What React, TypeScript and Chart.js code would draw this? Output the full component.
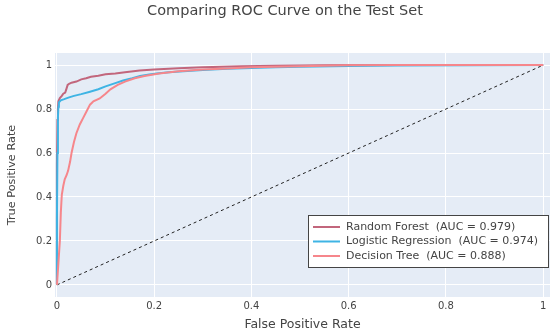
import React, { useEffect, useRef } from "react";
import { Chart, registerables } from "chart.js";

Chart.register(...registerables);

const TITLE = "Comparing ROC Curve on the Test Set";
const X_TITLE = "False Positive Rate";
const Y_TITLE = "True Positive Rate";
const TICKS = [0, 0.2, 0.4, 0.6, 0.8, 1];

const SERIES_NAMES = ["Random Forest", "Logistic Regression", "Decision Tree"];
const AUC_VALUES = ["0.979", "0.974", "0.888"];
const SERIES_COLORS = ["#c2667c", "#3fb4e4", "#f6868b"];

const RF_FPR = [0, 0, 0.001, 0.002, 0.003, 0.006, 0.01, 0.013, 0.017, 0.02, 0.022, 0.025, 0.03, 0.04, 0.05, 0.06, 0.07, 0.085, 0.1, 0.12, 0.14, 0.17, 0.2, 0.25, 0.3, 0.38, 0.45, 0.55, 0.65, 1];
const RF_TPR = [0, 0.55, 0.75, 0.8, 0.835, 0.85, 0.86, 0.87, 0.875, 0.895, 0.91, 0.915, 0.92, 0.925, 0.935, 0.94, 0.947, 0.952, 0.958, 0.962, 0.967, 0.975, 0.98, 0.986, 0.99, 0.995, 0.997, 0.999, 1, 1];

const LR_FPR = [0, 0, 0.001, 0.002, 0.003, 0.004, 0.008, 0.015, 0.025, 0.035, 0.05, 0.068, 0.085, 0.1, 0.12, 0.136, 0.155, 0.171, 0.19, 0.205, 0.23, 0.26, 0.3, 0.35, 0.4, 0.45, 0.5, 0.6, 0.7, 0.85, 1];
const LR_TPR = [0, 0.3, 0.6, 0.76, 0.81, 0.83, 0.84, 0.845, 0.853, 0.86, 0.868, 0.879, 0.89, 0.903, 0.918, 0.93, 0.94, 0.95, 0.957, 0.962, 0.967, 0.972, 0.978, 0.983, 0.987, 0.99, 0.993, 0.996, 0.998, 0.999, 1];

const DT_FPR = [0, 0.003, 0.006, 0.008, 0.01, 0.013, 0.016, 0.02, 0.023, 0.027, 0.03, 0.035, 0.04, 0.047, 0.054, 0.061, 0.068, 0.075, 0.088, 0.1, 0.11, 0.125, 0.14, 0.16, 0.18, 0.21, 0.25, 0.3, 0.35, 0.4, 0.5, 0.6, 0.7, 1];
const DT_TPR = [0, 0.1, 0.2, 0.33, 0.41, 0.45, 0.48, 0.5, 0.52, 0.56, 0.6, 0.65, 0.69, 0.73, 0.76, 0.79, 0.82, 0.835, 0.848, 0.87, 0.89, 0.91, 0.925, 0.94, 0.95, 0.962, 0.972, 0.98, 0.985, 0.99, 0.995, 0.999, 1, 1];

const DIAG_X = [0, 1];
const DIAG_Y = [0, 1];

const toPoints = (xs: number[], ys: number[]) => xs.map((x, i) => ({ x, y: ys[i] }));

const FONT = "'DejaVu Sans', Verdana, sans-serif";

const bgPlugin = {
  id: "bg",
  beforeDraw(chart: any) {
    const { ctx, chartArea } = chart;
    ctx.save();
    ctx.fillStyle = "#e5ecf6";
    ctx.fillRect(chartArea.left, chartArea.top, chartArea.right - chartArea.left, chartArea.bottom - chartArea.top);
    ctx.restore();
  },
};

const overlayPlugin = {
  id: "overlay",
  afterDraw(chart: any) {
    const { ctx } = chart;
    ctx.save();
    // title
    ctx.fillStyle = "#444";
    ctx.font = `14.5px ${FONT}`;
    ctx.textAlign = "center";
    ctx.textBaseline = "middle";
    ctx.fillText(TITLE, 285, 11);
    // legend
    const bx = 308.5, by = 215.5, bw = 240, bh = 52;
    ctx.fillStyle = "#ffffff";
    ctx.fillRect(bx, by, bw, bh);
    ctx.strokeStyle = "#444";
    ctx.lineWidth = 1;
    ctx.strokeRect(bx, by, bw, bh);
    const rows = [227, 241.5, 256];
    ctx.font = `11px ${FONT}`;
    ctx.textAlign = "left";
    SERIES_NAMES.forEach((name, i) => {
      ctx.strokeStyle = SERIES_COLORS[i];
      ctx.lineWidth = 2;
      ctx.beginPath();
      ctx.moveTo(313, rows[i]);
      ctx.lineTo(340, rows[i]);
      ctx.stroke();
      ctx.fillStyle = "#444";
      ctx.fillText(`${name}  (AUC = ${AUC_VALUES[i]})`, 346, rows[i]);
    });
    ctx.restore();
  },
};

export default function App() {
  const ref = useRef<HTMLCanvasElement>(null);
  useEffect(() => {
    if (!ref.current) return;
    const line = (data: any, color: string, order: number, extra: any = {}) => ({
      data,
      borderColor: color,
      backgroundColor: color,
      borderWidth: 2,
      showLine: true,
      pointRadius: 0,
      fill: false,
      tension: 0,
      order,
      ...extra,
    });
    const chart = new Chart(ref.current, {
      type: "scatter",
      data: {
        datasets: [
          line(toPoints(RF_FPR, RF_TPR), SERIES_COLORS[0], 3),
          line(toPoints(LR_FPR, LR_TPR), SERIES_COLORS[1], 2),
          line(toPoints(DT_FPR, DT_TPR), SERIES_COLORS[2], 1),
          line(toPoints(DIAG_X, DIAG_Y), "#222", 4, { borderWidth: 1, borderDash: [3, 3] }),
        ],
      },
      options: {
        responsive: false,
        animation: false,
        events: [],
        layout: { padding: { top: 53, left: 0, right: 0, bottom: 0 } },
        plugins: { legend: { display: false }, tooltip: { enabled: false }, title: { display: false } },
        scales: {
          x: {
            type: "linear",
            min: -0.004,
            max: 1.014,
            afterBuildTicks: (s: any) => { s.ticks = TICKS.map((v) => ({ value: v })); },
            afterFit: (s: any) => { s.height = 37; },
            grid: { color: "#ffffff", lineWidth: 1, drawTicks: false },
            border: { display: false },
            ticks: { padding: 3, color: "#444", font: { family: FONT, size: 10 }, callback: (v: any) => String(v), maxRotation: 0, autoSkip: false },
            title: { display: true, text: X_TITLE, color: "#444", font: { family: FONT, size: 12.5 }, padding: { top: 0, bottom: 2 } },
          },
          y: {
            type: "linear",
            min: -0.055,
            max: 1.055,
            afterBuildTicks: (s: any) => { s.ticks = TICKS.map((v) => ({ value: v })); },
            afterFit: (s: any) => { s.width = 55; },
            grid: { color: "#ffffff", lineWidth: 1, drawTicks: false },
            border: { display: false },
            ticks: { padding: 3, color: "#444", font: { family: FONT, size: 10 }, callback: (v: any) => String(v), autoSkip: false },
            title: { display: true, text: Y_TITLE, color: "#444", font: { family: FONT, size: 11.3 }, padding: { top: 5, bottom: 0 } },
          },
        },
      },
      plugins: [bgPlugin, overlayPlugin],
    } as any);
    return () => chart.destroy();
  }, []);
  return (
    <div style={{ position: "absolute", left: 0, top: 0, width: 550, height: 334, background: "#fff" }}>
      <canvas ref={ref} width={550} height={334} />
    </div>
  );
}
